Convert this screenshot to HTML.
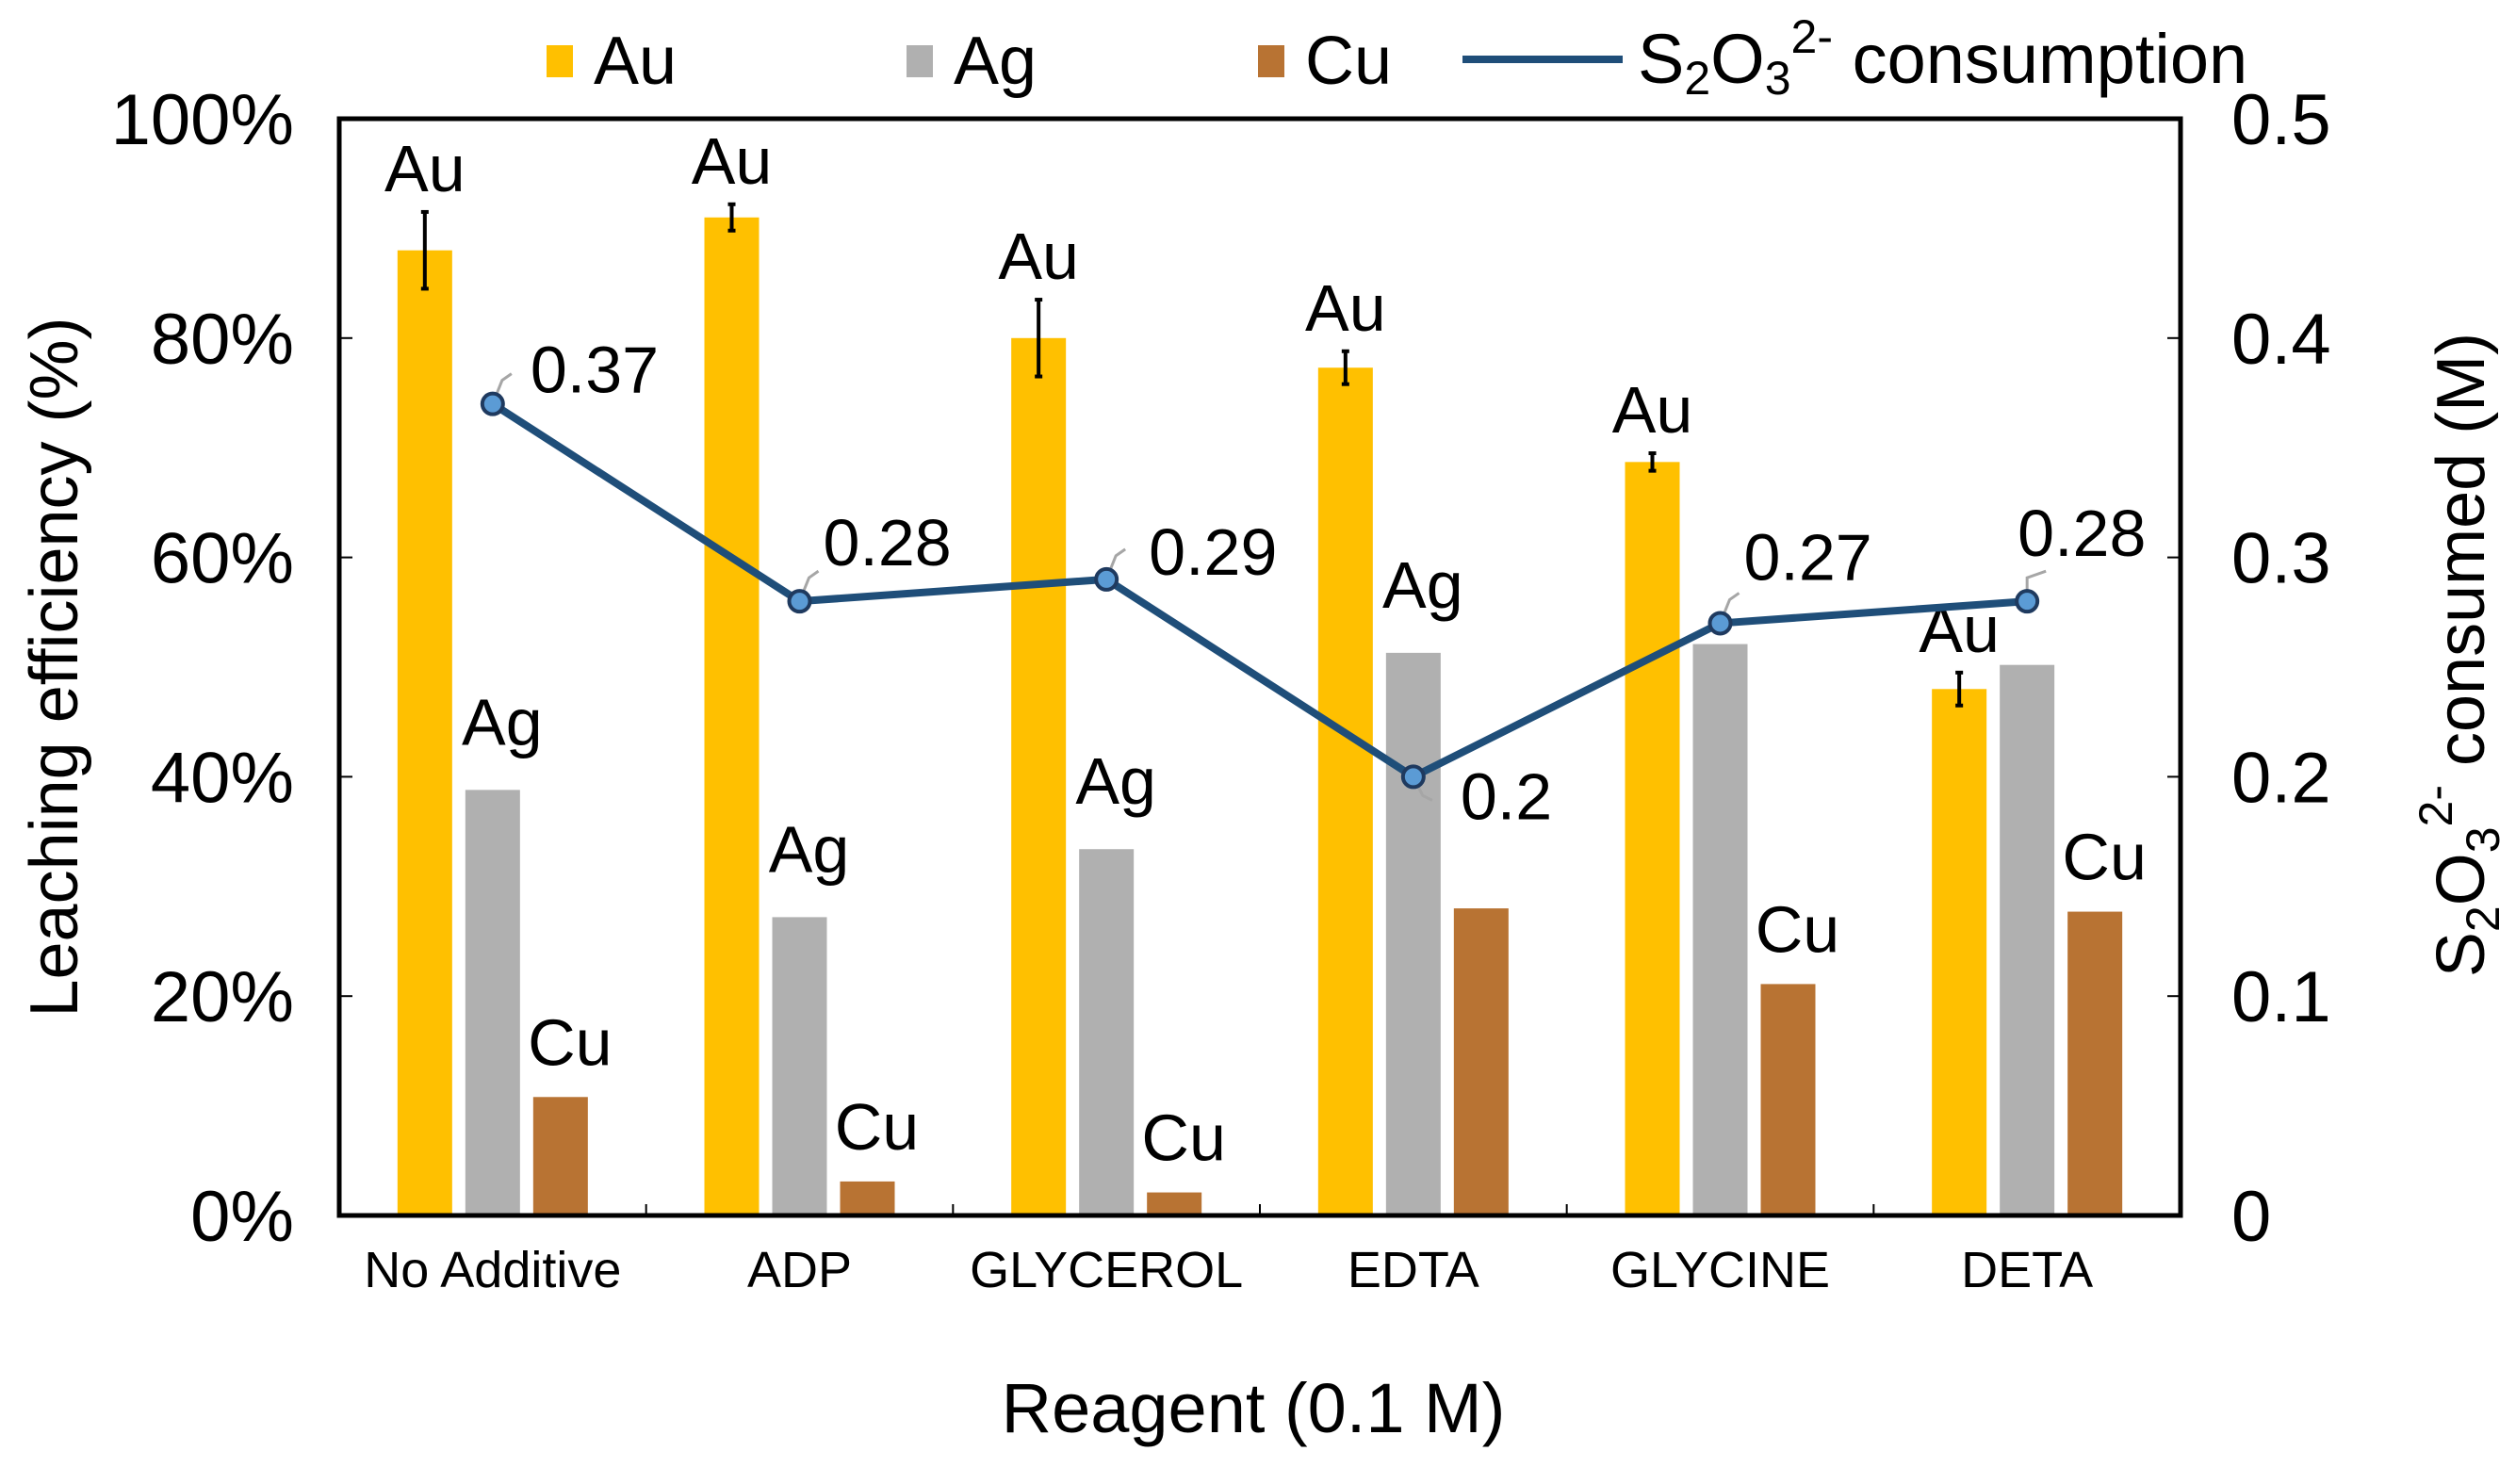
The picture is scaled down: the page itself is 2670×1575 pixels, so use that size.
<!DOCTYPE html>
<html><head><meta charset="utf-8"><style>
html,body{margin:0;padding:0;background:#fff;}
svg{display:block;font-family:"Liberation Sans",Arial,sans-serif;}
</style></head><body>
<svg id="chart" width="2670" height="1575" viewBox="0 0 2670 1575" xmlns="http://www.w3.org/2000/svg"></svg>
<script>
const categories = ["No Additive","ADP","GLYCEROL","EDTA","GLYCINE","DETA"];
const auValues = [88, 91, 80, 77.3, 68.7, 48];
const auErrors = [3.5, 1.2, 3.5, 1.5, 0.8, 1.5];
const agValues = [38.8, 27.2, 33.4, 51.3, 52.1, 50.2];
const cuValues = [10.8, 3.1, 2.1, 28, 21.1, 27.7];
const thioValues = [0.37, 0.28, 0.29, 0.2, 0.27, 0.28];
const thioLabels = ["0.37","0.28","0.29","0.2","0.27","0.28"];
const showAg = [true,true,true,true,false,false];
const showCu = [true,true,true,false,true,true];
const leftTicks = [0,20,40,60,80,100];
const leftTickLabels = ["0%","20%","40%","60%","80%","100%"];
const rightTicks = [0,0.1,0.2,0.3,0.4,0.5];
const rightTickLabels = ["0","0.1","0.2","0.3","0.4","0.5"];

const svg = document.getElementById('chart');
const NS = "http://www.w3.org/2000/svg";
const L=360, R=2314, T=126, B=1290;
const groupW=(R-L)/categories.length;
const yL = v => B - (v/100)*(B-T);
const yR = v => B - (v/0.5)*(B-T);
const xC = i => L + groupW*(i+0.5);
const BW=58, OFF=72;
function mk(tag, attrs, parent){const e=document.createElementNS(NS,tag);for(const k in attrs)e.setAttribute(k,attrs[k]);(parent||svg).appendChild(e);return e;}
function txt(x,y,s,size,anchor,parent){const t=mk('text',{x:x,y:y,'font-size':size,'text-anchor':anchor||'middle',fill:'#000'},parent);t.textContent=s;return t;}

categories.forEach((c,i)=>{
  const cx=xC(i);
  const a=mk('rect',{x:cx-OFF-BW/2,y:yL(auValues[i]),width:BW,height:B-yL(auValues[i]),fill:'#FFC000'});
  
  
  const g=mk('rect',{x:cx-BW/2,y:yL(agValues[i]),width:BW,height:B-yL(agValues[i]),fill:'#B0B0B0'});
  
  
  const u=mk('rect',{x:cx+OFF-BW/2,y:yL(cuValues[i]),width:BW,height:B-yL(cuValues[i]),fill:'#B87333'});
  
  
  const ex=cx-OFF, et=yL(auValues[i]+auErrors[i]), eb=yL(auValues[i]-auErrors[i]);
  const eg=mk('g',{stroke:'#000','stroke-width':4});
  
  
  mk('line',{x1:ex,y1:et,x2:ex,y2:eb},eg);
  mk('line',{x1:ex-4,y1:et,x2:ex+4,y2:et},eg);
  mk('line',{x1:ex-4,y1:eb,x2:ex+4,y2:eb},eg);
  const la=txt(ex,et-22,'Au',70);
  
  
  if(showAg[i]){
    const lg=txt(cx+10,yL(agValues[i])-48,'Ag',70);
    
    
  }
  if(showCu[i]){
    const lc=txt(cx+OFF+10,yL(cuValues[i])-34,'Cu',70);
    
    
  }
  const ct=txt(cx,B+76,c,54);
  
  
  if(i>0){mk('line',{x1:L+groupW*i,y1:B,x2:L+groupW*i,y2:B-12,stroke:'#000','stroke-width':2});}
});

const fr=mk('rect',{x:L,y:T,width:R-L,height:B-T,fill:'none',stroke:'#000','stroke-width':5});



leftTicks.forEach((v,i)=>{
  mk('line',{x1:L,y1:yL(v),x2:L+14,y2:yL(v),stroke:'#000','stroke-width':2});
  const t=txt(L-48,yL(v)+27,leftTickLabels[i],76,'end');
  
  
});
rightTicks.forEach((v,i)=>{
  mk('line',{x1:R-14,y1:yR(v),x2:R,y2:yR(v),stroke:'#000','stroke-width':2});
  const t=txt(R+54,yR(v)+27,rightTickLabels[i],76,'start');
  
  
});

const pts=thioValues.map((v,i)=>xC(i)+','+yR(v)).join(' ');
const pl=mk('polyline',{points:pts,fill:'none',stroke:'#1F4E79','stroke-width':8,'stroke-linejoin':'round'});


const lblOff=[[40,-12,1],[25,-38,1],[45,-5,1],[50,45,-1],[25,-46,1],[-10,-48,1]];
thioValues.forEach((v,i)=>{
  const x=xC(i), y=yR(v), o=lblOff[i];
  const ldr=mk('polyline',{points:`${x},${y} ${x+(o[0]>0?10:0)},${y+(o[2]>0?-25:20)} ${x+20},${y+(o[2]>0?-32:25)}`,fill:'none',stroke:'#A6A6A6','stroke-width':3});
  
  
  const c=mk('circle',{cx:x,cy:y,r:11,fill:'#5B9BD5',stroke:'#1F3A5F','stroke-width':4});
  
  
  const t=txt(x+o[0],y+o[1],thioLabels[i],70,'start');
  
  
});
</script>
<svg style="position:absolute;left:0;top:0" width="2670" height="1575" viewBox="0 0 2670 1575" xmlns="http://www.w3.org/2000/svg" font-family="Liberation Sans, Arial, sans-serif">
  <text x="0" y="0" font-size="72" text-anchor="middle" transform="translate(82,708) rotate(-90)">Leaching efficiency (%)</text>
  <text x="0" y="0" font-size="72" text-anchor="middle" transform="translate(2636,695) rotate(-90)">S<tspan font-size="50" dy="16">2</tspan><tspan dy="-16">O</tspan><tspan font-size="50" dy="16">3</tspan><tspan font-size="50" dy="-50">2-</tspan><tspan dy="34">  consumed (M)</tspan></text>
  <text x="1330" y="1520" font-size="74" text-anchor="middle">Reagent (0.1 M)</text>
  <g>
    <rect x="580" y="48" width="28" height="34" fill="#FFC000"/>
    <text x="630" y="89" font-size="72">Au</text>
    <rect x="962" y="48" width="28" height="34" fill="#B0B0B0"/>
    <text x="1012" y="89" font-size="72">Ag</text>
    <rect x="1335" y="48" width="28" height="34" fill="#B87333"/>
    <text x="1385" y="89" font-size="72">Cu</text>
    <line x1="1552" y1="63" x2="1722" y2="63" stroke="#1F4E79" stroke-width="8"/>
    <text x="1738" y="88" font-size="74">S<tspan font-size="50" dy="12">2</tspan><tspan dy="-12">O</tspan><tspan font-size="50" dy="12">3</tspan><tspan font-size="50" dy="-44">2-</tspan><tspan dy="32"> consumption</tspan></text>
  </g>
</svg>
</body></html>
